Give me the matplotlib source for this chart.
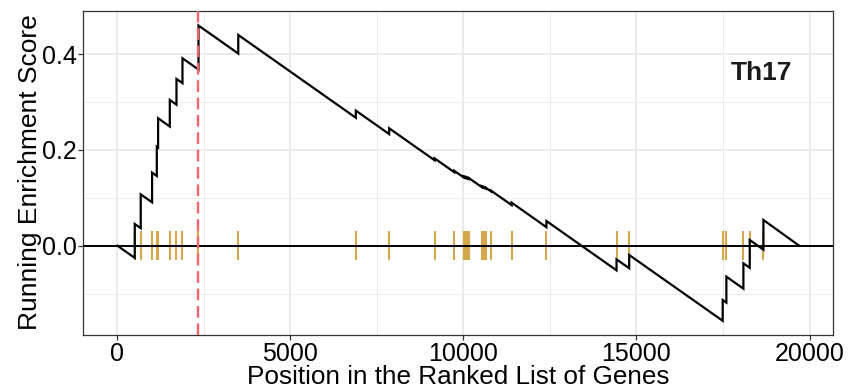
import numpy as np
import matplotlib
matplotlib.use("Agg")
import matplotlib.pyplot as plt
from matplotlib.ticker import MultipleLocator, FormatStrFormatter

# Ranked-list positions of the gene-set members (hits)
hit_rank = [501, 674, 1002, 1138, 1176, 1514, 1707, 1880, 2343, 3492,
            6890, 7853, 9165, 9734, 10003, 10052, 10101, 10159, 10524, 10582,
            10651, 10796, 11392, 12397, 14423, 14789, 17491, 17597, 18089,
            18272, 18668]
# Running enrichment score just before and just after each hit
es_before = [-0.0255, 0.0366, 0.0906, 0.1457, 0.2051, 0.2490, 0.2947, 0.3396,
             0.3680, 0.4015, 0.2673, 0.2332, 0.1785, 0.1535, 0.1428, 0.1419,
             0.1410, 0.1396, 0.1226, 0.1212, 0.1193, 0.1135, 0.0848, 0.0387,
             -0.0515, -0.0471, -0.1569, -0.1189, -0.0897, -0.0461, -0.0083]
es_after = [0.0454, 0.1073, 0.1526, 0.2070, 0.2662, 0.3045, 0.3484, 0.3916,
            0.4600, 0.4403, 0.2822, 0.2453, 0.1825, 0.1565, 0.1444, 0.1435,
            0.1426, 0.1412, 0.1242, 0.1228, 0.1209, 0.1151, 0.0899, 0.0516,
            -0.0285, -0.0194, -0.1135, -0.0647, -0.0368, 0.0119, 0.0537]
list_start, list_end = 0, 19700
gene_set = "Th17"

x_ticks = [0, 5000, 10000, 15000, 20000]
y_ticks = [0.0, 0.2, 0.4]

plt.rcParams["font.family"] = ["Liberation Sans", "DejaVu Sans"]
plt.rcParams["lines.scale_dashes"] = False

# running-score path: linear drift between hits, vertical step at each hit
px = [list_start]
py = [0.0]
for r, b, a in zip(hit_rank, es_before, es_after):
    px += [r, r]
    py += [b, a]
px.append(list_end)
py.append(0.0)
px = np.array(px, dtype=float)
py = np.array(py)

peak_rank = px[np.argmax(py)]

fig = plt.figure(figsize=(8.59, 3.90), dpi=100)
ax = fig.add_axes([0.097, 0.141, 0.873, 0.831])

ax.set_xlim(-985, 20685)
ax.set_ylim(-0.1866, 0.4905)

ax.xaxis.set_major_locator(MultipleLocator(5000))
ax.xaxis.set_minor_locator(MultipleLocator(2500))
ax.yaxis.set_major_locator(MultipleLocator(0.2))
ax.yaxis.set_minor_locator(MultipleLocator(0.1))
ax.xaxis.set_major_formatter(FormatStrFormatter("%d"))
ax.yaxis.set_major_formatter(FormatStrFormatter("%.1f"))
ax.set_xticks(x_ticks)
ax.set_yticks(y_ticks)

ax.grid(which="major", color="#EBEBEB", linewidth=1.4, zorder=0)
ax.grid(which="minor", color="#EBEBEB", linewidth=0.7, zorder=0)
ax.set_axisbelow(True)

for s in ax.spines.values():
    s.set_color("#333333")
    s.set_linewidth(0.9)

ax.tick_params(which="major", length=3.6, width=0.9, color="#333333",
               labelsize=18, labelcolor="black", pad=1.2)
ax.tick_params(which="minor", length=0)

# hit markers
ax.vlines(hit_rank, -0.03, 0.03, color="#D4A74A", linewidth=1.5, zorder=2)
ax.axhline(0, color="black", linewidth=1.4, zorder=3)
ax.plot(px, py, color="black", linewidth=1.6, zorder=4, solid_joinstyle="miter")
ax.axvline(peak_rank, color="#F2646C", linewidth=1.7, dashes=(8.4, 4.1), zorder=5)

ax.text(0.9036, 0.787, gene_set, transform=ax.transAxes, ha="center",
        va="baseline", fontsize=19, fontweight="bold", color="#1A1A1A")

fig.text(0.5335, 1 - 383.5 / 390, "Position in the Ranked List of Genes",
         ha="center", va="baseline", fontsize=18.8, color="black")
fig.text(37.5 / 859, 1 - 172.5 / 390, "Running Enrichment Score",
         rotation=90, rotation_mode="anchor", ha="center", va="baseline",
         fontsize=19, color="black")

fig.savefig("out.png", dpi=100)
